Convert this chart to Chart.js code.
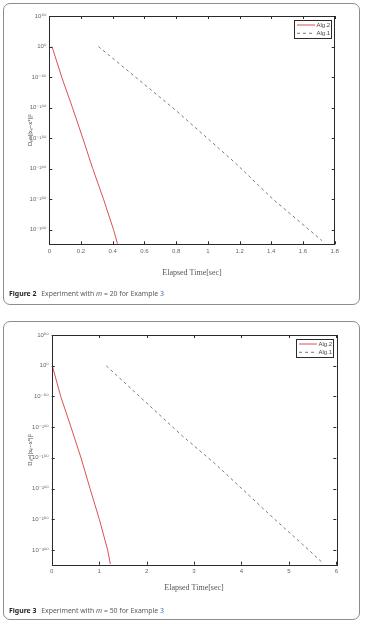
<!DOCTYPE html>
<html>
<head>
<meta charset="utf-8">
<script src="https://cdn.jsdelivr.net/npm/chart.js@4.4.1/dist/chart.umd.min.js"></script>
<style>
  body { margin: 0; background: #fff; width: 366px; height: 625px; position: relative; overflow: hidden; font-family: "Noto Sans", sans-serif; }
  .fig { position: absolute; left: 3px; width: 357px; border: 1px solid #8c8c8c; border-radius: 7px; box-sizing: border-box; }
  #fig2 { top: 3px; height: 302px; }
  #fig3 { top: 321px; height: 299px; }
  canvas { position: absolute; left: 0; }
  .caption { position: absolute; left: 9px; font-size: 6.9px; color: #5a5a5a; white-space: nowrap; line-height: 10px; will-change: transform; -webkit-font-smoothing: antialiased; }
  .caption b { color: #1e1e1e; margin-right: 3px; }
  .caption span { color: #3d5fc0; }
</style>
</head>
<body>
<div class="fig" id="fig2"></div>
<div class="fig" id="fig3"></div>
<canvas id="chart20" width="366" height="284" style="top:0;width:366px;height:284px"></canvas>
<canvas id="chart50" width="366" height="284" style="top:321px;width:366px;height:284px"></canvas>
<div class="caption" style="top:289px"><b>Figure 2</b> Experiment with <i>m</i> = 20 for Example <span>3</span></div>
<div class="caption" style="top:606px"><b>Figure 3</b> Experiment with <i>m</i> = 50 for Example <span>3</span></div>

<script>
// exponents of D_n (log10)
const logTicks = [50, 0, -50, -100, -150, -200, -250, -300];

// m = 20
const timeTicks20 = [0, 0.2, 0.4, 0.6, 0.8, 1, 1.2, 1.4, 1.6, 1.8];
const alg2Time20 = [0.017, 0.078, 0.146, 0.211, 0.274, 0.342, 0.405, 0.43];
const alg2Log20 = [0, -50, -100, -150, -200, -250, -300, -323];
const alg1Time20 = [0.31, 0.80, 1.17, 1.41, 1.72];
const alg1Log20 = [0, -105, -190, -250, -318];

// m = 50
const timeTicks50 = [0, 1, 2, 3, 4, 5, 6];
const alg2Time50 = [0.013, 0.19, 0.407, 0.618, 0.808, 1.004, 1.18, 1.236];
const alg2Log50 = [0, -50, -100, -150, -200, -250, -300, -323];
const alg1Time50 = [1.15, 2.75, 3.45, 4.7, 5.42, 5.71];
const alg1Log50 = [0, -114, -160, -250, -300, -321];

const supMap = { "0": "⁰", "1": "¹", "2": "²", "3": "³", "4": "⁴", "5": "⁵", "6": "⁶", "7": "⁷", "8": "⁸", "9": "⁹", "-": "⁻" };
const sup = v => String(v).split("").map(c => supMap[c]).join("");
const toPoints = (xs, ys) => xs.map((x, i) => ({ x: x, y: ys[i] }));

const tickFont = { family: "'Liberation Sans', 'DejaVu Sans'", size: 6 };

// MATLAB style frame, inward ticks and boxed legend
const matlabFrame = {
  id: "matlabFrame",
  afterDraw(chart) {
    const { ctx, chartArea: a, scales: { x, y } } = chart;
    ctx.save();
    ctx.strokeStyle = "#2a2a2a";
    ctx.lineWidth = 1;
    ctx.setLineDash([]);
    ctx.strokeRect(Math.round(a.left) + 0.5, Math.round(a.top) + 0.5, Math.round(a.width), Math.round(a.height));
    ctx.beginPath();
    x.ticks.forEach(t => {
      const px = Math.round(x.getPixelForValue(t.value)) + 0.5;
      ctx.moveTo(px, a.bottom); ctx.lineTo(px, a.bottom - 3);
      ctx.moveTo(px, a.top); ctx.lineTo(px, a.top + 3);
    });
    y.ticks.forEach(t => {
      const py = Math.round(y.getPixelForValue(t.value)) + 0.5;
      ctx.moveTo(a.left, py); ctx.lineTo(a.left + 3, py);
      ctx.moveTo(a.right, py); ctx.lineTo(a.right - 3, py);
    });
    ctx.stroke();

    // legend box
    const lw = 37, lh = 18;
    const lx = Math.round(a.right - 3.5 - lw), ly = Math.round(a.top + 4);
    ctx.fillStyle = "#fff";
    ctx.fillRect(lx, ly, lw, lh);
    ctx.strokeRect(lx + 0.5, ly + 0.5, lw, lh);
    ctx.font = "6px 'Liberation Sans'";
    ctx.textBaseline = "middle";
    chart.data.datasets.forEach((ds, i) => {
      const rowY = ly + 5 + i * 8.3;
      ctx.strokeStyle = ds.borderColor;
      ctx.setLineDash(ds.borderDash || []);
      ctx.beginPath();
      ctx.moveTo(lx + 3, rowY); ctx.lineTo(lx + 21, rowY);
      ctx.stroke();
      ctx.fillStyle = "#444";
      ctx.fillText(ds.label, lx + 22.5, rowY);
    });
    ctx.restore();
  }
};

function makeChart(id, cfg) {
  return new Chart(document.getElementById(id), {
    type: "scatter",
    data: {
      datasets: [
        { label: "Alg.2", data: cfg.alg2, showLine: true, borderColor: "#d9534f", borderWidth: 1, pointRadius: 0 },
        { label: "Alg.1", data: cfg.alg1, showLine: true, borderColor: "#6f7a96", borderWidth: 1, borderDash: [3, 3], pointRadius: 0 }
      ]
    },
    options: {
      responsive: false,
      animation: false,
      layout: { padding: cfg.padding },
      plugins: { legend: { display: false }, tooltip: { enabled: false } },
      scales: {
        x: {
          type: "linear",
          min: cfg.xTicks[0],
          max: cfg.xTicks[cfg.xTicks.length - 1],
          afterBuildTicks: s => { s.ticks = cfg.xTicks.map(v => ({ value: v })); },
          afterFit: s => { s.height = cfg.xHeight; },
          grid: { display: false, drawTicks: false },
          border: { display: false },
          ticks: { font: tickFont, color: "#666", padding: 3, autoSkip: false, maxRotation: 0, callback: v => String(v) },
          title: { display: true, text: "Elapsed Time[sec]", color: "#555", font: { family: "'Liberation Serif'", size: 8 }, padding: { top: 0, bottom: cfg.titlePad } }
        },
        y: {
          type: "linear",
          min: -324,
          max: 50,
          afterBuildTicks: s => { s.ticks = logTicks.map(v => ({ value: v })); },
          afterFit: s => { s.width = cfg.yWidth; },
          grid: { display: false, drawTicks: false },
          border: { display: false },
          ticks: { font: tickFont, color: "#666", padding: 3, autoSkip: false, callback: v => "10" + sup(v) },
          title: { display: true, text: "Dₙ=||xₙ−x*||²", color: "#444", font: { family: "'Liberation Sans'", size: 6 }, padding: { top: 27, bottom: 0 } }
        }
      }
    },
    plugins: [matlabFrame]
  });
}

document.addEventListener("DOMContentLoaded", () => {
  makeChart("chart20", {
    alg2: toPoints(alg2Time20, alg2Log20),
    alg1: toPoints(alg1Time20, alg1Log20),
    xTicks: timeTicks20,
    padding: { top: 16, right: 31.3, bottom: 4, left: 0 },
    yWidth: 49.3,
    xHeight: 35.7,
    titlePad: 2.6
  });
  makeChart("chart50", {
    alg2: toPoints(alg2Time50, alg2Log50),
    alg1: toPoints(alg1Time50, alg1Log50),
    xTicks: timeTicks50,
    padding: { top: 14, right: 29.7, bottom: 4.3, left: 0 },
    yWidth: 51.7,
    xHeight: 36,
    titlePad: 8.2
  });
});
</script>
</body>
</html>
